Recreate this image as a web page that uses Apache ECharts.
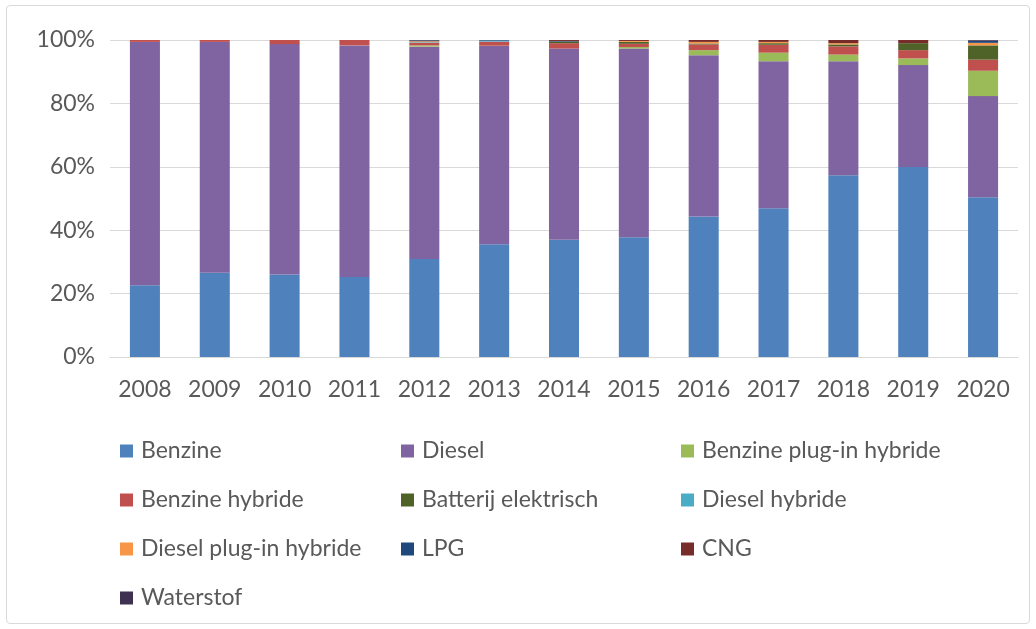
<!DOCTYPE html>
<html>
<head>
<meta charset="utf-8">
<script src="https://cdn.jsdelivr.net/npm/echarts@6/dist/echarts.min.js"></script>
<style>
  html, body { margin: 0; padding: 0; background: #fff; }
  #frame { position: absolute; left: 6px; top: 5px; width: 1022px; height: 617px; border: 1px solid #d9d9d9; border-radius: 4px; }
  #chart { position: absolute; left: 0; top: 0; width: 1036px; height: 629px; }
</style>
</head>
<body>
<div id="frame"></div>
<div id="chart"></div>
<script>
//jaren
var years = ['2008', '2009', '2010', '2011', '2012', '2013', '2014', '2015', '2016', '2017', '2018', '2019', '2020'];

//aandeel per brandstof (%)
var benzine            = [22.6, 26.6, 26.0, 25.2, 30.9, 35.6, 37.0, 37.8, 44.3, 46.9, 57.3, 59.9, 50.4];
var diesel             = [76.8, 72.8, 72.7, 73.1, 67.0, 62.5, 60.3, 59.5, 50.9, 46.4, 36.0, 32.2, 31.9];
var benzinePlugin      = [0, 0, 0, 0, 0.4, 0.1, 0, 0.5, 1.6, 2.7, 2.1, 2.1, 8.0];
var benzineHybride     = [0.6, 0.6, 1.3, 1.7, 0.8, 1.3, 1.7, 1.0, 1.8, 2.5, 2.6, 2.6, 3.5];
var batterijElektrisch = [0, 0, 0, 0, 0, 0, 0.5, 0.6, 0.3, 0.5, 0.6, 2.2, 4.5];
var dieselHybride      = [0, 0, 0, 0, 0.2, 0.3, 0, 0, 0, 0, 0, 0, 0];
var dieselPlugin       = [0, 0, 0, 0, 0.3, 0, 0, 0.3, 0.5, 0.4, 0.4, 0, 0.8];
var lpg                = [0, 0, 0, 0, 0.3, 0.2, 0.2, 0, 0, 0, 0, 0, 0.6];
var cng                = [0, 0, 0, 0, 0.1, 0, 0.3, 0.3, 0.6, 0.6, 1.0, 1.0, 0.1];
var waterstof          = [0, 0, 0, 0, 0, 0, 0, 0, 0, 0, 0, 0, 0.2];

//y-as labels
var yTicks = ['0%', '20%', '40%', '60%', '80%', '100%'];

var seriesDef = [
    ['Benzine', benzine, '#4F81BD'],
    ['Diesel', diesel, '#8064A2'],
    ['Benzine plug-in hybride', benzinePlugin, '#9BBB59'],
    ['Benzine hybride', benzineHybride, '#C0504D'],
    ['Batterij elektrisch', batterijElektrisch, '#4F6228'],
    ['Diesel hybride', dieselHybride, '#4BACC6'],
    ['Diesel plug-in hybride', dieselPlugin, '#F79646'],
    ['LPG', lpg, '#1F497D'],
    ['CNG', cng, '#772C2A'],
    ['Waterstof', waterstof, '#3F3151']
];

var font = 'Lato';
var txt = '#595959';

var series = [];
for (var i = 0; i < seriesDef.length; i++) {
    series.push({
        name: seriesDef[i][0],
        type: 'bar',
        stack: 'totaal',
        barWidth: '43%',
        itemStyle: {color: seriesDef[i][2]},
        data: seriesDef[i][1]
    });
}

//legenda in drie kolommen
function legendCol(names, left) {
    return {
        orient: 'vertical',
        left: left,
        top: 434,
        itemWidth: 13,
        itemHeight: 13,
        itemGap: 25,
        icon: 'rect',
        textStyle: {fontFamily: font, fontSize: 23, lineHeight: 24, color: txt, padding: [0, 0, 0, 3]},
        data: names
    };
}

var chart = echarts.init(document.getElementById('chart'));
var option = {
    animation: false,
    grid: {left: 110, right: 18, top: 40, height: 317},
    legend: [
        legendCol(['Benzine', 'Benzine hybride', 'Diesel plug-in hybride', 'Waterstof'], 115),
        legendCol(['Diesel', 'Batterij elektrisch', 'LPG'], 396),
        legendCol(['Benzine plug-in hybride', 'Diesel hybride', 'CNG'], 676)
    ],
    xAxis: {
        type: 'category',
        data: years,
        axisLine: {lineStyle: {color: '#d9d9d9'}},
        axisTick: {show: false},
        axisLabel: {fontFamily: font, fontSize: 23, color: txt, margin: 21}
    },
    yAxis: {
        type: 'value',
        min: 0,
        max: 100,
        interval: 20,
        axisLine: {show: false},
        axisTick: {show: false},
        splitLine: {lineStyle: {color: '#d9d9d9'}},
        axisLabel: {
            fontFamily: font, fontSize: 23, color: txt, margin: 15,
            formatter: function (v) { return yTicks[v / 20]; }
        }
    },
    series: series
};
chart.setOption(option);
</script>
</body>
</html>
